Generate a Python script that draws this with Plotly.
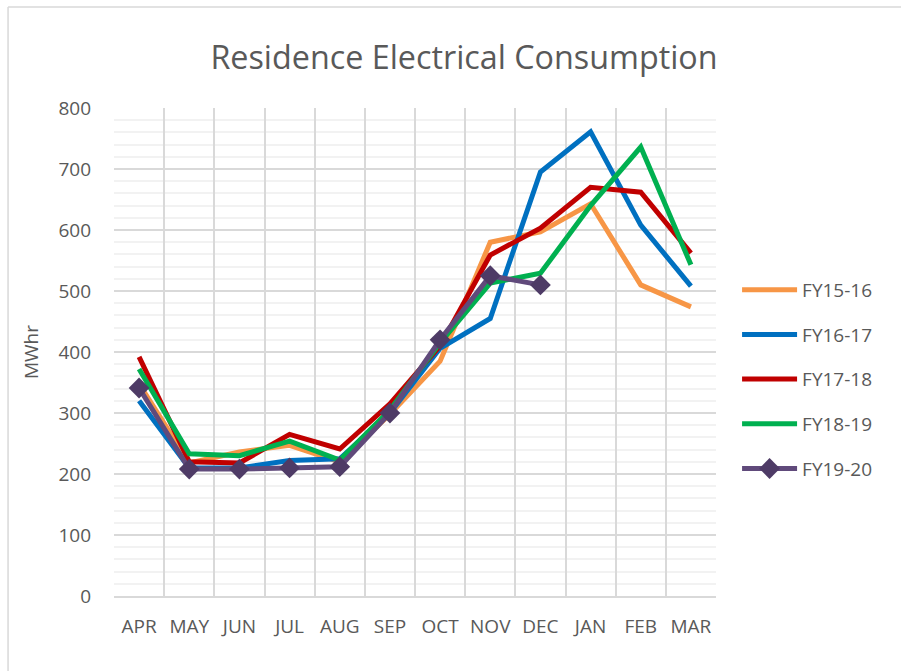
import plotly.graph_objects as go

months = ["APR", "MAY", "JUN", "JUL", "AUG", "SEP", "OCT", "NOV", "DEC", "JAN", "FEB", "MAR"]

fy15_16 = [348, 218, 236, 247, 220, 298, 385, 580, 597, 643, 510, 474]
fy16_17 = [320, 210, 210, 222, 225, 300, 406, 455, 695, 761, 608, 508]
fy17_18 = [392, 220, 218, 265, 241, 315, 410, 559, 603, 670, 662, 562]
fy18_19 = [372, 233, 230, 254, 223, 305, 415, 513, 529, 640, 736, 543]
fy19_20 = [341, 208, 208, 210, 212, 300, 420, 525, 510]

series = [
    ("FY15-16", fy15_16, "#F79646"),
    ("FY16-17", fy16_17, "#0070C0"),
    ("FY17-18", fy17_18, "#C00000"),
    ("FY18-19", fy18_19, "#00B050"),
]

FONT = "Open Sans"
GREY = "#595959"

fig = go.Figure()
for i, (name, vals, col) in enumerate(series):
    fig.add_trace(go.Scatter(
        x=months[:len(vals)], y=vals, name=name, mode="lines",
        line=dict(color=col, width=5), legendgroup=f"g{i}",
    ))
fig.add_trace(go.Scatter(
    x=months[:len(fy19_20)], y=fy19_20, name="FY19-20", mode="lines+markers",
    line=dict(color="#604A7B", width=5),
    marker=dict(symbol="diamond", size=16, color="#4E3B66"),
    legendgroup="g4",
))

frame = dict(color="#D9D9D9", width=1.5)
fig.update_layout(
    width=901, height=671,
    paper_bgcolor="white", plot_bgcolor="white",
    margin=dict(l=114, r=185, t=108, b=75),
    title=dict(text="Residence Electrical Consumption", x=0.515, xanchor="center",
               y=0.914, yanchor="middle",
               font=dict(family=FONT, size=32.3, color=GREY)),
    font=dict(family=FONT, color=GREY, size=19),
    showlegend=True,
    legend=dict(x=1.035, xanchor="left", y=0.444, yanchor="middle",
                font=dict(family=FONT, size=19, color=GREY),
                tracegroupgap=17, itemwidth=55, bgcolor="rgba(0,0,0,0)"),
    xaxis=dict(
        type="category", categoryorder="array", categoryarray=months,
        tickson="boundaries", showgrid=True, gridcolor="#D9D9D9", gridwidth=1.5,
        showline=True, linecolor="#D9D9D9", linewidth=1.5, mirror=False,
        ticks="", ticklabelstandoff=12,
        tickfont=dict(family=FONT, size=19, color=GREY),
        range=[-0.5, 11.5], zeroline=False,
    ),
    yaxis=dict(
        range=[0, 800], dtick=100, showgrid=True, gridcolor="#D9D9D9", gridwidth=1.5,
        zeroline=False, showline=False, ticks="", ticklabelstandoff=22,
        tickfont=dict(family=FONT, size=19, color=GREY),
        title=dict(text="MWhr", font=dict(family=FONT, size=19, color=GREY), standoff=14),
        minor=dict(dtick=20, showgrid=True, gridcolor="#F2F2F2", gridwidth=1.5),
    ),
    shapes=[
        dict(type="line", xref="paper", yref="paper", x0=-0.176, x1=-0.176,
             y0=-0.5, y1=1.207, line=frame, layer="below"),
        dict(type="line", xref="paper", yref="paper", x0=-0.176, x1=1.8,
             y0=1.207, y1=1.207, line=frame, layer="below"),
    ],
)

fig.write_html("out.html", config={"displayModeBar": False},
               post_script="document.body.style.margin='0';")
